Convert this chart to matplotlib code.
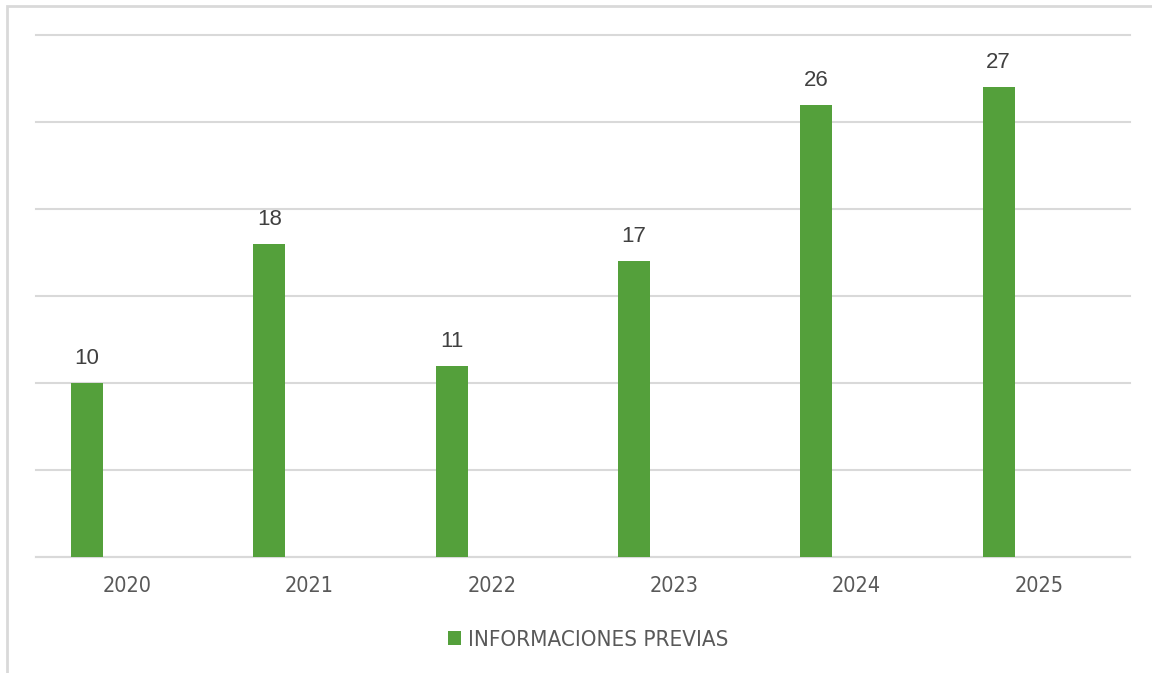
import matplotlib.pyplot as plt
import numpy as np
from matplotlib.patches import Rectangle

years = ["2020", "2021", "2022", "2023", "2024", "2025"]
informaciones = [10, 18, 11, 17, 26, 27]
series_name = "INFORMACIONES PREVIAS"

GREEN = "#54A03B"
TEXT = "#595959"
LABEL = "#404040"
GRID = "#D9D9D9"

plt.rcParams['font.family'] = ['DejaVu Sans']

fig = plt.figure(figsize=(11.52, 6.73), dpi=100)
# outer chart border
fig.patches.append(Rectangle((7 / 1152, -0.05), 1.1, 1.05 - 6 / 673,
                             transform=fig.transFigure, fill=False,
                             edgecolor=GRID, linewidth=2, zorder=0))

ax = fig.add_axes([36 / 1152, 1 - 557 / 673, (1130 - 36) / 1152, (557 - 35) / 673])
x = np.arange(len(years))
bars = ax.bar(x - 0.22, informaciones, width=0.176, color=GREEN,
              label=series_name, zorder=3)

for b, v in zip(bars, informaciones):
    ax.text(b.get_x() + b.get_width() / 2, v + 0.8, str(v),
            ha="center", va="bottom", fontsize=16, color=LABEL,
            family="Liberation Sans")

ax.set_xlim(-0.5, len(years) - 0.5)
ax.set_ylim(0, 30)
ax.set_yticks(np.arange(0, 31, 5))
ax.yaxis.grid(True, color=GRID, linewidth=1.5)
for gl in ax.get_ygridlines():
    gl.set_clip_on(False)
ax.set_yticklabels([])
ax.tick_params(axis="y", length=0)
ax.set_xticks(x)
ax.set_xticklabels(years, fontsize=15.5, color=TEXT, fontstretch="condensed")
ax.tick_params(axis="x", length=0, pad=14)
for s in ["top", "right", "left"]:
    ax.spines[s].set_visible(False)
ax.spines["bottom"].set_color(GRID)
ax.spines["bottom"].set_linewidth(1.5)

fig.legend(handles=[bars], labels=[series_name], loc="center",
           bbox_to_anchor=(588 / 1152, 1 - 640 / 673), frameon=False,
           prop={"size": 16, "stretch": "condensed"}, labelcolor=TEXT,
           handlelength=0.6, handleheight=0.6, handletextpad=0.3)

fig.savefig("out.png", dpi=100)
